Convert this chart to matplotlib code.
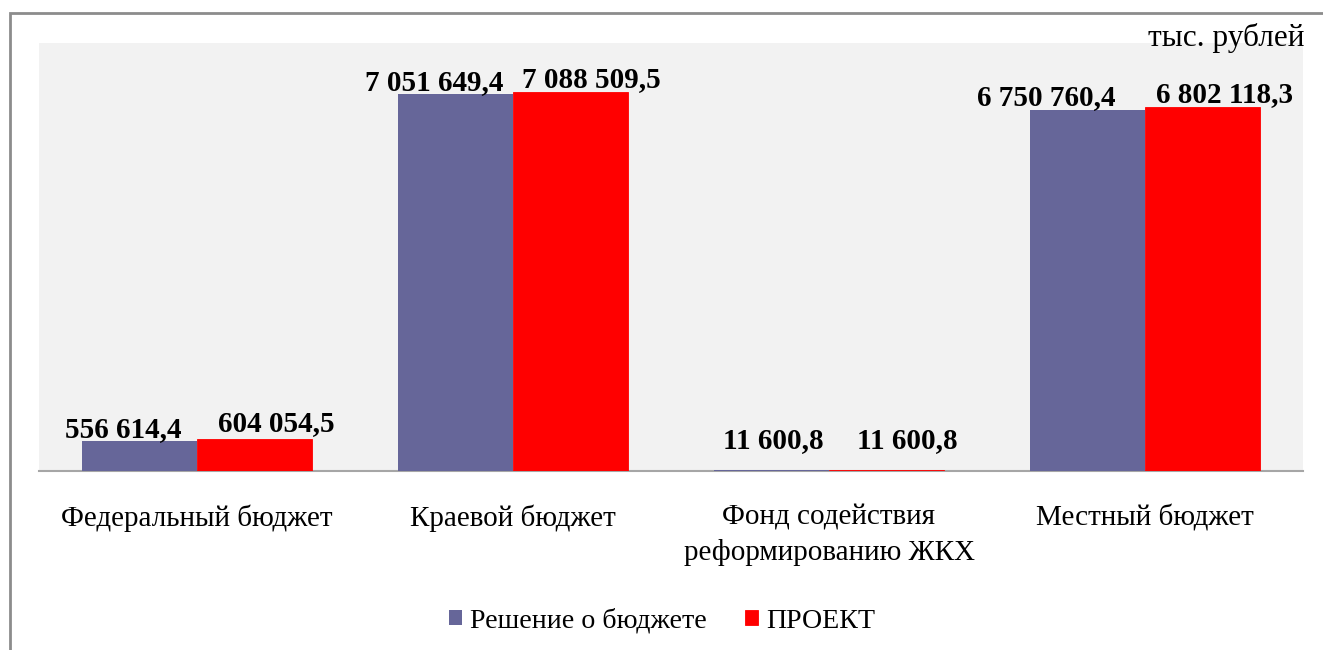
import matplotlib
matplotlib.use('Agg')
import matplotlib.pyplot as plt
from matplotlib.patches import Rectangle
import numpy as np

plt.rcParams['font.family'] = ['Liberation Serif', 'DejaVu Serif']

categories = ['Федеральный бюджет', 'Краевой бюджет',
              'Фонд содействия\nреформированию ЖКХ', 'Местный бюджет']
reshenie = [556614.4, 7051649.4, 11600.8, 6750760.4]
proekt = [604054.5, 7088509.5, 11600.8, 6802118.3]
series_names = ['Решение о бюджете', 'ПРОЕКТ']

def fmt(v):
    s = '{:,.1f}'.format(v)
    return s.replace(',', ' ').replace('.', ',')

fig = plt.figure(figsize=(13.23, 6.5), dpi=100)
ax = fig.add_axes([39/1323, 1 - 471/650, 1264/1323, 428/650])

# outer chart border (runs off the right/bottom of the image)
fig.patches.append(Rectangle((10/1323, -0.1), 1.2, 1 - 13/650 + 0.1,
                             transform=fig.transFigure, fill=False,
                             edgecolor='#8c8c8c', linewidth=2))

x = np.arange(len(categories))
w = 0.365
b1 = ax.bar(x - w/2, reshenie, w, color='#666699', label=series_names[0], zorder=3)
b2 = ax.bar(x + w/2, proekt, w, color='#ff0000', label=series_names[1], zorder=3,
            edgecolor='#ff0000', linewidth=0.6)

# label nudges (px) the way excel pushed them apart
dx1 = [-16, -21, 2, -41]
dx2 = [22, 21, 21, 22]
dy1 = [-2, -2, 16, -1]
dy2 = [2, -1, 16, -1]
px = 0.72
for i in range(len(x)):
    ax.annotate(fmt(reshenie[i]), (x[i] - w/2, reshenie[i]), xytext=(dx1[i]*px, dy1[i]*px),
                textcoords='offset points', ha='center', va='bottom',
                fontsize=21, fontweight='bold', zorder=4)
    ax.annotate(fmt(proekt[i]), (x[i] + w/2, proekt[i]), xytext=(dx2[i]*px, dy2[i]*px),
                textcoords='offset points', ha='center', va='bottom',
                fontsize=21, fontweight='bold', zorder=4)

ax.set_facecolor('#f2f2f2')
ax.set_xlim(-0.5, len(categories) - 0.5)
ax.set_ylim(0, 8000000)
ax.set_yticks([])
ax.set_xticks(x)
ax.set_xticklabels(categories, fontsize=21, linespacing=1.4)
ax.tick_params(axis='x', length=0, pad=24)
for s in ['top', 'left', 'right']:
    ax.spines[s].set_visible(False)
ax.spines['bottom'].set_color('#a6a6a6')
ax.spines['bottom'].set_linewidth(1.5)

fig.text(1305/1323, 1 - 38/650, 'тыс. рублей', ha='right', va='center', fontsize=22.5)

ax.legend(loc='center', bbox_to_anchor=(0.493, (471 - 621)/428), ncol=2, frameon=False,
          fontsize=20.2, handlelength=0.45, handleheight=0.45, handletextpad=0.3,
          columnspacing=1.35)

fig.savefig('out.png', dpi=100)
